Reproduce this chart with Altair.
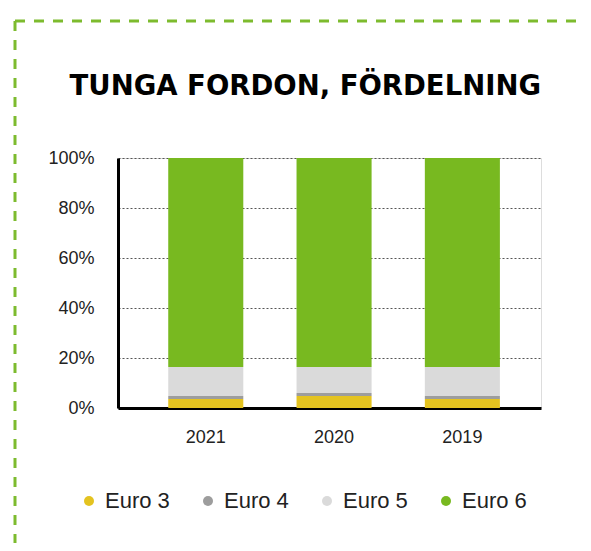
import altair as alt
import pandas as pd

years = ["2021", "2020", "2019"]
classes = ["Euro 3", "Euro 4", "Euro 5", "Euro 6"]
euro3 = [0.036, 0.048, 0.036]
euro4 = [0.012, 0.012, 0.012]
euro5 = [0.116, 0.104, 0.116]
euro6 = [0.836, 0.836, 0.836]
colors = ["#e4c320", "#9d9d9d", "#dadada", "#78b920"]

rows = []
for i, y in enumerate(years):
    for k, (c, vals) in enumerate(zip(classes, [euro3, euro4, euro5, euro6])):
        rows.append({"year": y, "cls": c, "idx": k, "share": vals[i]})
df = pd.DataFrame(rows)

FONT = "Liberation Sans"

bars = alt.Chart(df).mark_bar().encode(
    x=alt.X("year:N", sort=years,
            scale=alt.Scale(paddingInner=0.415, paddingOuter=0.356, align=0.55),
            axis=alt.Axis(title=None, labelAngle=0, labelFontSize=18, labelColor="#222222",
                          labelPadding=20, ticks=False, tickSize=0, domainColor="#000000",
                          domainWidth=3, grid=False, labelFont=FONT)),
    y=alt.Y("share:Q", stack="zero",
            scale=alt.Scale(domain=[0, 1], nice=False),
            axis=alt.Axis(title=None, format=".0%", values=[0, 0.2, 0.4, 0.6, 0.8, 1.0],
                          labelFontSize=18, labelColor="#222222", labelPadding=24,
                          ticks=False, tickSize=0, domainColor="#000000", domainWidth=3,
                          grid=True, gridColor="#555555", gridDash=[2, 2], gridWidth=1,
                          labelFont=FONT)),
    color=alt.Color("cls:N", sort=classes,
                    scale=alt.Scale(domain=classes, range=colors),
                    legend=alt.Legend(orient="none", legendX=-40, legendY=332,
                                      direction="horizontal", columns=4, title=None,
                                      symbolType="circle", symbolSize=100,
                                      symbolStrokeWidth=0, labelFontSize=22,
                                      labelColor="#222222", labelOffset=5,
                                      columnPadding=27, labelFont=FONT)),
    order=alt.Order("idx:Q", sort="ascending"),
)

border_data = alt.Data(values=[{}])
top_line = alt.Chart(border_data).mark_rule(
    color="#7dbb2e", strokeWidth=3, strokeDash=[10, 9]
).encode(x=alt.value(-103), x2=alt.value(470), y=alt.value(-137))
left_line = alt.Chart(border_data).mark_rule(
    color="#7dbb2e", strokeWidth=3, strokeDash=[10, 9]
).encode(x=alt.value(-103), y=alt.value(-137), y2=alt.value(400))

chart = alt.layer(bars, top_line, left_line).properties(
    width=423, height=250,
    title=alt.TitleParams("TUNGA FORDON, FÖRDELNING", anchor="end", frame="group",
                          fontSize=27.5, fontWeight="bold", font="DejaVu Sans",
                          color="#000000", baseline="alphabetic", offset=-103),
    autosize=alt.AutoSizeParams(type="none"),
    padding={"left": 110, "top": 150, "right": 42, "bottom": 135},
).configure_view(stroke=None).configure(font=FONT)

chart.save("out.html", embed_options={"renderer": "svg", "actions": False})
